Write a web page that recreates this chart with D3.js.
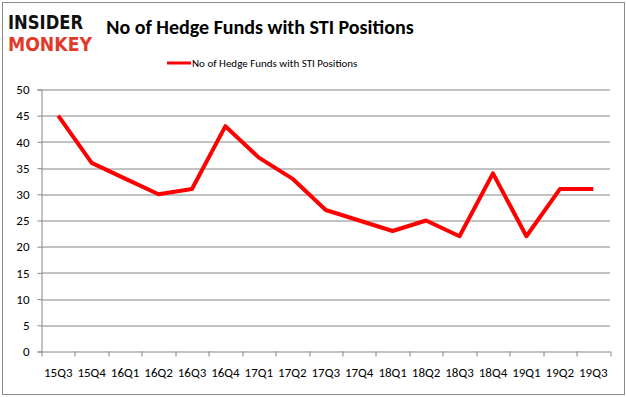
<!DOCTYPE html>
<html>
<head>
<meta charset="utf-8">
<script src="https://cdn.jsdelivr.net/npm/d3@7"></script>
<style>
  body { margin: 0; background: #fff; }
  text { font-family: Carlito, Calibri, "Liberation Sans", "DejaVu Sans", sans-serif; }
</style>
</head>
<body>
<div id="chart"></div>
<script>
const quarters = ['15Q3','15Q4','16Q1','16Q2','16Q3','16Q4','17Q1','17Q2','17Q3','17Q4','18Q1','18Q2','18Q3','18Q4','19Q1','19Q2','19Q3'];
const funds = [45, 36, 33, 30, 31, 43, 37, 33, 27, 25, 23, 25, 22, 34, 22, 31, 31];
const yTicks = [0, 5, 10, 15, 20, 25, 30, 35, 40, 45, 50];
const seriesName = 'No of Hedge Funds with STI Positions';

const W = 626, H = 397;
const margin = {top: 89.5, right: 16, bottom: 45.5, left: 41.5};
const width = W - margin.left - margin.right;
const height = H - margin.top - margin.bottom;

const root = d3.select('#chart').append('svg')
  .attr('width', W)
  .attr('height', H);

// outer frame
root.append('rect')
  .attr('x', 2.5).attr('y', 2.5)
  .attr('width', W - 4).attr('height', H - 5)
  .attr('fill', 'none')
  .attr('stroke', '#8c8c8c')
  .attr('stroke-width', 1);

// logo
root.append('text')
  .attr('x', 8).attr('y', 29)
  .style('font-family', '"DejaVu Sans", sans-serif')
  .style('font-weight', 'bold')
  .style('font-size', '19px')
  .attr('textLength', 75)
  .attr('lengthAdjust', 'spacingAndGlyphs')
  .attr('fill', '#111')
  .text('INSIDER');
root.append('text')
  .attr('x', 8).attr('y', 51)
  .style('font-family', '"DejaVu Sans", sans-serif')
  .style('font-weight', 'bold')
  .style('font-size', '19px')
  .attr('textLength', 84)
  .attr('lengthAdjust', 'spacingAndGlyphs')
  .attr('fill', '#e03a2a')
  .text('MONKEY');

// title
root.append('text')
  .attr('x', 260).attr('y', 34)
  .attr('text-anchor', 'middle')
  .style('font-weight', 'bold')
  .style('font-size', '20px')
  .attr('fill', '#000')
  .text('No of Hedge Funds with STI Positions');

// legend
root.append('line')
  .attr('x1', 167).attr('x2', 191)
  .attr('y1', 63).attr('y2', 63)
  .attr('stroke', '#ff0000')
  .attr('stroke-width', 3);
root.append('text')
  .attr('x', 192).attr('y', 67)
  .style('font-size', '11px')
  .attr('fill', '#000')
  .text(seriesName);

const svg = root.append('g')
  .attr('transform', `translate(${margin.left},${margin.top})`);

const x = d3.scaleBand()
  .domain(quarters)
  .range([0, width]);

const y = d3.scaleLinear()
  .domain([0, 50])
  .range([height, 0]);

// gridlines
svg.append('g')
  .selectAll('line')
  .data(yTicks.filter(d => d > 0))
  .enter()
  .append('line')
  .attr('x1', 0).attr('x2', width)
  .attr('y1', d => Math.round(y(d)) + 0.5)
  .attr('y2', d => Math.round(y(d)) + 0.5)
  .attr('stroke', '#868686')
  .attr('stroke-width', 1);

// y axis
const yAxis = svg.append('g')
  .call(d3.axisLeft(y).tickValues(yTicks).tickSize(4).tickPadding(8));
yAxis.select('.domain').attr('stroke', '#868686');
yAxis.selectAll('.tick line').attr('stroke', '#868686');
yAxis.selectAll('text')
  .style('font-size', '13px')
  .attr('fill', '#000');

// x axis
const xAxis = svg.append('g')
  .attr('transform', `translate(0,${height})`)
  .call(d3.axisBottom(x).tickSize(0).tickPadding(16));
xAxis.select('.domain').attr('stroke', '#868686');
xAxis.selectAll('text')
  .style('font-size', '13px')
  .attr('fill', '#000');

// ticks at category boundaries
svg.append('g')
  .selectAll('line')
  .data(quarters.concat(['end']))
  .enter()
  .append('line')
  .attr('x1', (d, i) => Math.round(i * x.bandwidth()) + 0.5)
  .attr('x2', (d, i) => Math.round(i * x.bandwidth()) + 0.5)
  .attr('y1', height)
  .attr('y2', height + 5)
  .attr('stroke', '#868686');

// series line
const line = d3.line()
  .x((d, i) => x(quarters[i]) + x.bandwidth() / 2)
  .y(d => y(d));

svg.append('path')
  .datum(funds)
  .attr('fill', 'none')
  .attr('stroke', '#ff0000')
  .attr('stroke-width', 4)
  .attr('stroke-linejoin', 'round')
  .attr('d', line);
</script>
</body>
</html>
